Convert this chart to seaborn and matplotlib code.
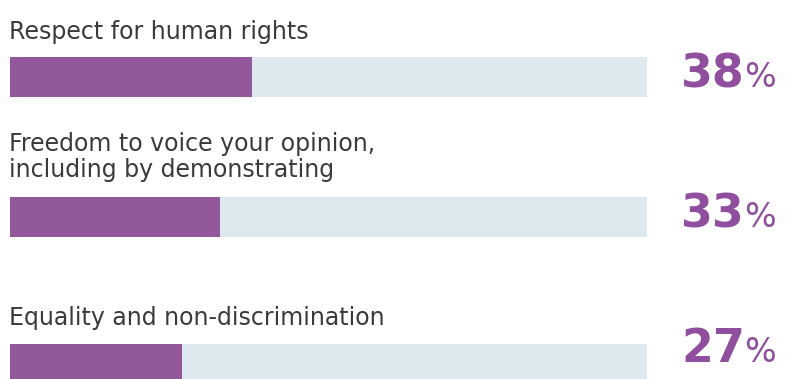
import matplotlib
matplotlib.use("Agg")
import matplotlib.pyplot as plt
import seaborn as sns
import pandas as pd

categories = [
    "Respect for human rights",
    "Freedom to voice your opinion,\nincluding by demonstrating",
    "Equality and non-discrimination",
]
values = [38, 33, 27]
value_labels = ["38", "33", "27"]
track_total = [100, 100, 100]

sns.set_style("white")
plt.rcParams["font.family"] = ["DejaVu Sans"]

W, H = 785, 379
fig = plt.figure(figsize=(W / 100, H / 100), dpi=100)

purple = "#93589c"
pct_col = "#8f4f9e"
track = "#dde9ef"
text_col = "#3a3a3a"

bar_tops = [57, 197, 344]
bar_h = 40
label_baselines = [39, 177, 325]
pct_baselines = [87, 227, 362]

for cat, v, tot, lab, top, lb, pb in zip(categories, values, track_total, value_labels,
                                         bar_tops, label_baselines, pct_baselines):
    ax = fig.add_axes([10 / W, 1 - (top + bar_h) / H, 637 / W, bar_h / H])
    df = pd.DataFrame({"cat": [cat], "value": [v], "total": [tot]})
    sns.barplot(data=df, x="total", y="cat", color=track, width=1, saturation=1,
                linewidth=0, ax=ax)
    sns.barplot(data=df, x="value", y="cat", color=purple, width=1, saturation=1,
                linewidth=0, ax=ax)
    ax.set_xlim(0, 100)
    ax.set_ylim(0.5, -0.5)
    ax.axis("off")

    fig.text(9 / W, 1 - lb / H, cat, ha="left", va="baseline", fontsize=17,
             color=text_col, linespacing=1.12)
    fig.text(745 / W, 1 - pb / H, lab, ha="right", va="baseline", fontsize=33,
             fontweight="bold", color=pct_col)
    fig.text(744 / W, 1 - pb / H, "%", ha="left", va="baseline", fontsize=24,
             color=pct_col)

fig.savefig("out.png", dpi=100)
